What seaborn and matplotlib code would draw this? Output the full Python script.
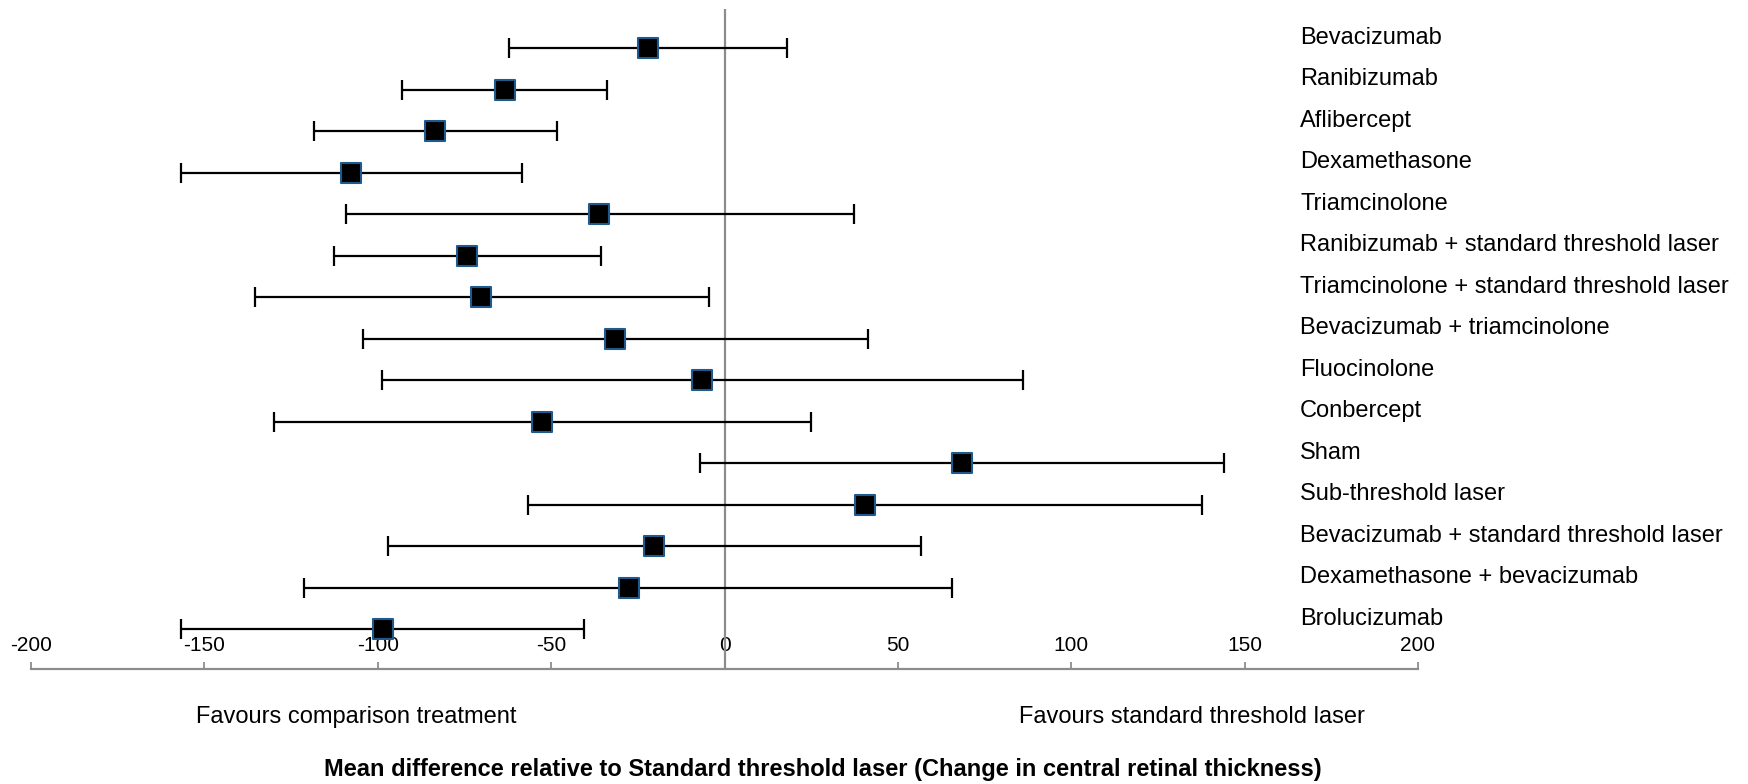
import pandas as pd
import numpy as np
import matplotlib
matplotlib.use('Agg')
import matplotlib.pyplot as plt
import seaborn as sns

# treatments (top to bottom) and mean difference with 95% CrI
treatments = ['Bevacizumab', 'Ranibizumab', 'Aflibercept', 'Dexamethasone', 'Triamcinolone',
              'Ranibizumab + standard threshold laser', 'Triamcinolone + standard threshold laser',
              'Bevacizumab + triamcinolone', 'Fluocinolone', 'Conbercept', 'Sham',
              'Sub-threshold laser', 'Bevacizumab + standard threshold laser',
              'Dexamethasone + bevacizumab', 'Brolucizumab']
mean_diff = [-22.1, -63.4, -83.5, -107.6, -36.3, -74.3, -70.1, -31.5, -6.4, -52.7, 68.5, 40.5, -20.3, -27.7, -98.4]
lower = [-62.2, -92.9, -118.5, -156.8, -109.3, -112.5, -135.4, -104.2, -98.7, -129.9, -7.1, -56.6, -97.1, -121.2, -156.7]
upper = [18.0, -33.8, -48.4, -58.3, 37.3, -35.7, -4.5, 41.5, 86.2, 24.8, 144.1, 137.6, 56.6, 65.6, -40.6]
xticks = [-200, -150, -100, -50, 0, 50, 100, 150, 200]

df = pd.DataFrame({'treatment': treatments, 'md': mean_diff, 'lo': lower, 'hi': upper})
df['row'] = np.arange(len(df))

sns.set_style('white')
plt.rcParams['font.family'] = ['Liberation Sans', 'DejaVu Sans']
plt.rcParams['text.color'] = 'black'
plt.rcParams['xtick.labelcolor'] = 'black'

fig = plt.figure(figsize=(17.48, 7.84), dpi=100)
ax = fig.add_axes([0.0178, 0.1467, 0.7934, 0.8418])

grey = '#8c8c8c'
ax.axvline(0, color=grey, lw=1.6, zorder=1)

ax.errorbar(df['md'], df['row'],
            xerr=[df['md'] - df['lo'], df['hi'] - df['md']],
            fmt='none', ecolor='black', elinewidth=1.6, capsize=7, capthick=1.6, zorder=2)
sns.scatterplot(data=df, x='md', y='row', marker='s', s=190, color='black',
                edgecolor='#1f5a8f', linewidth=1.5, zorder=3, ax=ax, legend=False)

# treatment names on the right
for _, r in df.iterrows():
    ax.text(166, r['row'] - 0.25, r['treatment'], fontsize=17, ha='left', va='center', color='black')

ax.set_xlim(-200, 200)
ax.set_ylim(14.96, -0.94)
ax.set_xticks(xticks)
ax.set_xticklabels([str(t) for t in xticks])
ax.set_yticks([])
ax.set_xlabel('')
ax.set_ylabel('')
for s in ['top', 'right', 'left']:
    ax.spines[s].set_visible(False)
ax.spines['bottom'].set_color(grey)
ax.spines['bottom'].set_linewidth(1.6)
ax.tick_params(axis='x', direction='in', length=5, width=1.3, color=grey,
               labelsize=15, pad=-24, bottom=True)

fig.text(0.2037, 0.0855, 'Favours comparison treatment', fontsize=17, ha='center', va='center')
fig.text(0.682, 0.0855, 'Favours standard threshold laser', fontsize=17, ha='center', va='center')
fig.text(0.4708, 0.019, 'Mean difference relative to Standard threshold laser (Change in central retinal thickness)',
         fontsize=17, fontweight='bold', ha='center', va='center')

fig.savefig('out.png', dpi=100)
